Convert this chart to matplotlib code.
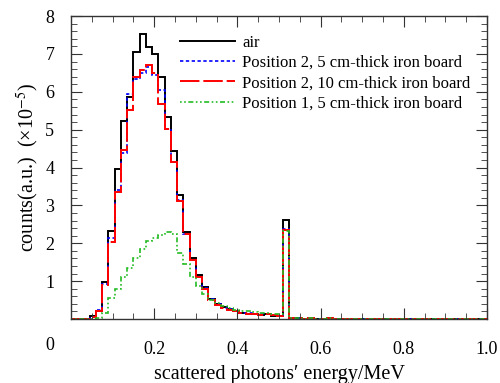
import matplotlib
matplotlib.use("Agg")
import matplotlib.pyplot as plt
import numpy as np
from matplotlib.ticker import MultipleLocator

plt.rcParams["font.family"] = ["Liberation Serif", "DejaVu Serif"]
plt.rcParams["mathtext.fontset"] = "stix"

# histogram bins: 0.015 MeV wide, starting at 0
bin_width = 0.015
n_bins = 67

air = [0.0, 0.0, 0.0, 0.08, 0.22, 0.97, 2.33, 3.97, 5.22, 5.87, 7.04, 7.54, 7.19, 7.01,
       6.38, 5.34, 4.44, 3.27, 2.30, 1.60, 1.16, 0.84, 0.53, 0.39, 0.31, 0.26, 0.21,
       0.17, 0.13, 0.13, 0.10, 0.12, 0.09, 0.07, 2.61,
       0.02, 0.02, 0.01, 0.02, 0.01, 0.01, 0.02, 0.01, 0.01, 0.01, 0.01, 0.01, 0.01,
       0.01, 0.01, 0.01, 0.01, 0.01, 0.01, 0.01, 0.01, 0.01, 0.01, 0.01, 0.01, 0.01,
       0.01, 0.01, 0.01, 0.01, 0.01, 0.01]
pos2_5cm = [0.0, 0.0, 0.0, 0.06, 0.24, 0.92, 2.13, 3.40, 4.39, 5.94, 6.35, 6.50, 6.66,
            6.45, 6.04, 5.03, 4.15, 3.15, 2.25, 1.55, 1.12, 0.82, 0.52, 0.40, 0.30,
            0.27, 0.22, 0.17, 0.15, 0.13, 0.12, 0.12, 0.10, 0.08, 2.37,
            0.02, 0.02, 0.01, 0.02, 0.01, 0.01, 0.02, 0.01, 0.01, 0.01, 0.01, 0.01,
            0.01, 0.01, 0.01, 0.01, 0.01, 0.01, 0.01, 0.01, 0.01, 0.01, 0.01, 0.01,
            0.01, 0.01, 0.01, 0.01, 0.01, 0.01, 0.01, 0.01]
pos2_10cm = [0.0, 0.0, 0.0, 0.05, 0.20, 0.90, 2.04, 3.36, 4.47, 5.51, 6.39, 6.57, 6.70,
             6.50, 5.69, 5.03, 4.15, 3.11, 2.25, 1.55, 1.10, 0.80, 0.50, 0.38, 0.29,
             0.25, 0.20, 0.16, 0.14, 0.12, 0.10, 0.13, 0.11, 0.08, 2.35,
             0.02, 0.02, 0.01, 0.02, 0.01, 0.01, 0.02, 0.01, 0.01, 0.01, 0.01, 0.01,
             0.01, 0.01, 0.01, 0.01, 0.01, 0.01, 0.01, 0.01, 0.01, 0.01, 0.01, 0.01,
             0.01, 0.01, 0.01, 0.01, 0.01, 0.01, 0.01, 0.01]
pos1_5cm = [0.0, 0.0, 0.0, 0.0, 0.03, 0.15, 0.55, 0.80, 1.10, 1.35, 1.60, 1.85, 2.05,
            2.15, 2.22, 2.30, 2.25, 1.75, 1.45, 1.10, 0.88, 0.65, 0.50, 0.42, 0.35,
            0.30, 0.25, 0.22, 0.20, 0.18, 0.16, 0.15, 0.14, 0.12, 2.33,
            0.02, 0.02, 0.01, 0.02, 0.01, 0.01, 0.02, 0.01, 0.01, 0.01, 0.01, 0.01,
            0.01, 0.01, 0.01, 0.01, 0.01, 0.01, 0.01, 0.01, 0.01, 0.01, 0.01, 0.01,
            0.01, 0.01, 0.01, 0.01, 0.01, 0.01, 0.01, 0.01]

labels = ["air",
          "Position 2, 5 cm-thick iron board",
          "Position 2, 10 cm-thick iron board",
          "Position 1, 5 cm-thick iron board"]

edges = np.arange(n_bins + 1) * bin_width

fig = plt.figure(figsize=(5.0, 3.83), dpi=100)
ax = fig.add_axes([0.142, 0.167, 0.832, 0.791])

ax.stairs(air, edges, color="black", lw=1.4, label=labels[0])
ax.stairs(pos2_5cm, edges, color="blue", lw=1.2, linestyle=(0, (2, 1.5)), label=labels[1])
ax.stairs(pos2_10cm, edges, color="red", lw=1.4, linestyle=(0, (10, 2)), label=labels[2])
ax.stairs(pos1_5cm, edges, color="#22bb22", lw=1.2, linestyle=(0, (1, 1.5, 1, 1.5, 3, 1.5)),
          label=labels[3])

ax.set_xlim(0, 1.0)
ax.set_ylim(0, 8)
ax.xaxis.set_major_locator(MultipleLocator(0.2))
ax.xaxis.set_minor_locator(MultipleLocator(0.05))
ax.yaxis.set_major_locator(MultipleLocator(1))
ax.yaxis.set_minor_locator(MultipleLocator(0.2))
ax.tick_params(which="both", direction="in", top=True, right=True, labelsize=13,
               color="#333333")
ax.tick_params(axis="x", which="major", length=8, pad=16)
ax.tick_params(axis="y", which="major", length=8, pad=12)
ax.tick_params(which="minor", length=4)
ax.set_xticks([0.2, 0.4, 0.6, 0.8, 1.0])
ax.set_xticklabels(["0.2", "0.4", "0.6", "0.8", "1.0"])
ax.set_yticks([1, 2, 3, 4, 5, 6, 7, 8])
for s in ax.spines.values():
    s.set_color("#333333")
    s.set_linewidth(1.0)

# shared corner zero label
fig.text(50 / 500, 1 - 345 / 383, "0", fontsize=13, ha="center", va="center")

ax.set_xlabel("scattered photons\u2032 energy/MeV", fontsize=14.5, labelpad=5)
ax.set_ylabel("counts(a.u.)  (\u00d710$^{-5}$)", fontsize=14.5, labelpad=3)

ax.legend(loc="upper left", bbox_to_anchor=(0.247, 0.96), frameon=False, fontsize=12,
          handlelength=3.3, handletextpad=0.4, labelspacing=0.25, borderaxespad=0)

fig.savefig("out.png", dpi=100)
